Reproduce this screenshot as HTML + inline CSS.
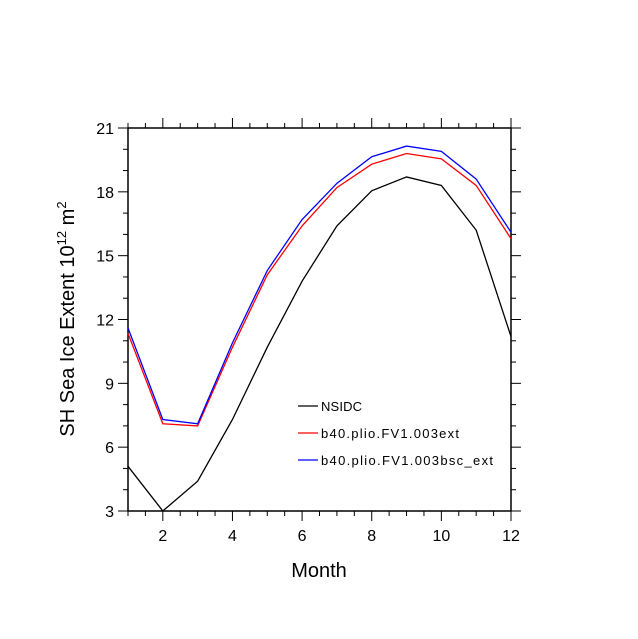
<!DOCTYPE html>
<html><head><meta charset="utf-8"><style>body{margin:0;background:#fff}svg{display:block;font-family:"Liberation Sans",sans-serif}</style></head>
<body>
<svg id="c" width="638" height="639" viewBox="0 0 638 639"></svg>
<script>
const months=[1,2,3,4,5,6,7,8,9,10,11,12];
const nsidc=[5.1,3.0,4.4,7.3,10.7,13.8,16.4,18.05,18.7,18.3,16.2,11.2];
const ext=[11.35,7.1,7.0,10.7,14.1,16.4,18.2,19.3,19.8,19.55,18.3,15.8];
const bsc=[11.6,7.3,7.1,10.9,14.3,16.7,18.4,19.65,20.15,19.9,18.6,16.1];
const xTicks=[2,4,6,8,10,12];
const yTicks=[3,6,9,12,15,18,21];
const names=["NSIDC","b40.plio.FV1.003ext","b40.plio.FV1.003bsc_ext"];
const colors=["#000","#f00","#00f"];
const L=128,R=511,T=128,B=511;
const X=m=>L+(m-1)*(R-L)/11, Y=v=>B-(v-3)*(B-T)/18;
const s=document.getElementById('c'),NS="http://www.w3.org/2000/svg";
function el(t,a,txt){const e=document.createElementNS(NS,t);for(const k in a)e.setAttribute(k,a[k]);if(txt!=null)e.textContent=txt;s.appendChild(e);return e;}
let e=el('rect',{x:L,y:T,width:R-L,height:B-T,fill:'none',stroke:'#000','stroke-width':1.5});


for(let m=1;m<=12;m+=0.5){const maj=xTicks.includes(m);const len=maj?10:5;const x=X(m);
el('line',{x1:x,x2:x,y1:B,y2:B+len,stroke:'#000'});el('line',{x1:x,x2:x,y1:T,y2:T-len,stroke:'#000'});}
for(let v=3;v<=21;v++){const maj=yTicks.includes(v);const len=maj?10:5;const y=Y(v);
el('line',{x1:L,x2:L-len,y1:y,y2:y,stroke:'#000'});el('line',{x1:R,x2:R+len,y1:y,y2:y,stroke:'#000'});}
xTicks.forEach(m=>{e=el('text',{x:X(m),y:B+30,'font-size':16,'text-anchor':'middle'},m);

});
yTicks.forEach(v=>{e=el('text',{x:L-14,y:Y(v)+6,'font-size':16,'text-anchor':'end'},v);

});
e=el('text',{x:319,y:577,'font-size':20,'text-anchor':'middle'},'Month');


e=el('text',{transform:'translate(74,319) rotate(-90)','font-size':20,'text-anchor':'middle'});
e.innerHTML='SH Sea Ice Extent 10<tspan dy="-8" font-size="13">12</tspan><tspan dy="8"> m</tspan><tspan dy="-8" font-size="13">2</tspan>';


const lens=[41,138,172];
[nsidc,ext,bsc].forEach((d,i)=>{e=el('polyline',{points:months.map((m,j)=>X(m)+','+Y(d[j])).join(' '),fill:'none',stroke:colors[i],'stroke-width':1.3});


const ly=406+i*27;
e=el('line',{x1:298,x2:318,y1:ly,y2:ly,stroke:colors[i],'stroke-width':1.3});


e=el('text',{x:321,y:ly+5,'font-size':13,fill:'#000',textLength:lens[i],lengthAdjust:'spacing'},names[i]);

});
</script>
</body></html>
